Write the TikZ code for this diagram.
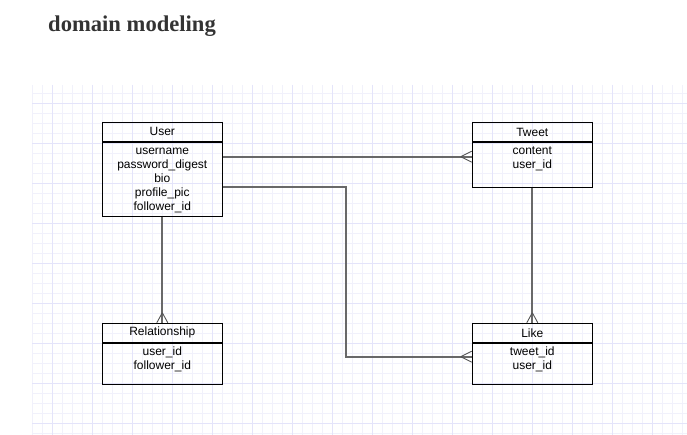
\documentclass[tikz,border=0pt]{standalone}
\usepackage{fontspec}
\setmainfont{Liberation Sans}
\newfontfamily\titlefont{Liberation Serif}
\newcommand\fieldstrut{\rule{0pt}{11pt}}
\definecolor{gridminor}{RGB}{241,241,251}
\definecolor{gridmajor}{RGB}{228,228,250}
\definecolor{conncol}{RGB}{105,105,105}
\definecolor{titlecol}{RGB}{51,51,51}
\tikzset{
  hdr/.style={draw=black, line width=1.1pt, minimum width=120pt, minimum height=19pt, inner sep=0pt, font=\fontsize{12}{14}\selectfont},
  bodybox/.style={draw=black, line width=1.1pt, minimum width=120pt, inner sep=0pt, anchor=north},
  fields/.style={anchor=north, align=center, inner sep=1pt, font=\fontsize{12}{14}\selectfont},
  conn/.style={draw=conncol, line width=1.9pt},
  crow/.style={draw=conncol!80!black, line width=0.9pt}
}
\begin{document}
\begin{tikzpicture}[x=1pt,y=-1pt]
\useasboundingbox (0,0) rectangle (687,435);
% grid
\foreach \k in {0,...,65} {
  \pgfmathsetmacro\xx{32.3+10*\k}
  \draw[gridminor, line width=0.8pt] (\xx,85) -- (\xx,435);
}
\foreach \k in {0,...,34} {
  \pgfmathsetmacro\yy{93.3+10*\k}
  \draw[gridminor, line width=0.8pt] (32.3,\yy) -- (687,\yy);
}
\foreach \k in {0,...,16} {
  \pgfmathsetmacro\xx{52.3+40*\k}
  \draw[gridmajor, line width=0.8pt] (\xx,85) -- (\xx,435);
}
\foreach \k in {0,...,8} {
  \pgfmathsetmacro\yy{103.3+40*\k}
  \draw[gridmajor, line width=0.8pt] (32.3,\yy) -- (687,\yy);
}
% title
\node[anchor=base west, inner sep=0pt, text=titlecol, font=\titlefont\bfseries\fontsize{22.6}{26}\selectfont] (title) at (48,31.7) {domain modeling};
% User
\node[hdr] (userh) at (162.3,131.8) {User};
\node[bodybox, minimum height=73.7pt] (user) at (userh.south) {};
\node[fields] (userf) at (user.north) {\fieldstrut username\\password\_digest\\bio\\profile\_pic\\follower\_id};
% Tweet
\node[hdr] (tweeth) at (532.3,132.3) {Tweet};
\node[bodybox, minimum height=45pt] (tweet) at (tweeth.south) {};
\node[fields] (tweetf) at (tweet.north) {\fieldstrut content\\user\_id};
% Relationship
\node[hdr] (relh) at (162.3,332.8) {Relationship};
\node[bodybox, minimum height=41pt] (rel) at (relh.south) {};
\node[fields] (relf) at (rel.north) {\fieldstrut user\_id\\follower\_id};
% Like
\node[hdr] (likeh) at (532.3,332.8) {Like};
\node[bodybox, minimum height=41pt] (like) at (likeh.south) {};
\node[fields] (likef) at (like.north) {\fieldstrut tweet\_id\\user\_id};
% connector points
\coordinate (u1) at (user.east |- 0,156.7);
\coordinate (t1) at (tweet.west |- 0,156.7);
\coordinate (u2) at (user.east |- 0,186.7);
\coordinate (bend) at (345.7,356.7);
\coordinate (l2) at (like.west |- 0,356.7);
% connectors
\draw[conn] (u1) -- (t1);
\draw[conn] (u2) -| (bend) -- (l2);
\draw[conn] (user.south) -- (relh.north);
\draw[conn] (tweet.south) -- (likeh.north);
% crow's feet
\draw[crow] (t1) ++(-11,0) -- ++(11,-5.5) ++(-11,5.5) -- ++(11,5.5);
\draw[crow] (l2) ++(-11,0) -- ++(11,-5.5) ++(-11,5.5) -- ++(11,5.5);
\draw[crow] (relh.north) ++(0,-10) -- ++(-5.5,10) ++(5.5,-10) -- ++(5.5,10);
\draw[crow] (likeh.north) ++(0,-10) -- ++(-5.5,10) ++(5.5,-10) -- ++(5.5,10);
\end{tikzpicture}
\end{document}
